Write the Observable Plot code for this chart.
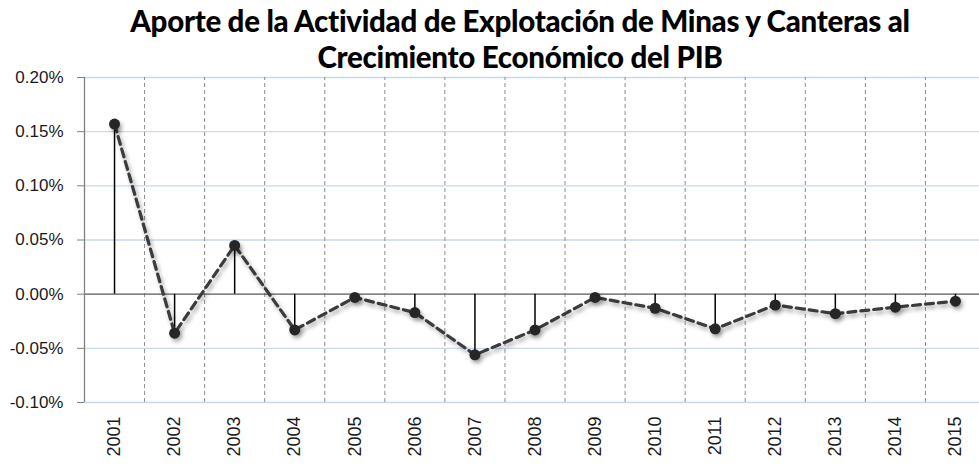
<!DOCTYPE html>
<html><head><meta charset="utf-8">
<script src="https://cdn.jsdelivr.net/npm/d3@7"></script>
<script src="https://cdn.jsdelivr.net/npm/@observablehq/plot@0.6"></script>
<style>
body{margin:0;background:#fff;width:979px;height:468px;overflow:hidden}
#title{font-family:Lato,"Open Sans",sans-serif;font-weight:900;font-size:29.5px;line-height:36px;text-align:center;color:#000;padding-left:61px;height:60px;box-sizing:border-box;padding-top:3px;letter-spacing:-0.3px;white-space:nowrap}
#chart svg{display:block;overflow:hidden}
</style></head><body>
<div id="title">Aporte de la Actividad de Explotación de Minas y Canteras al<br>Crecimiento Económico del PIB</div>
<div id="chart"></div>
<script>
const years = [2001,2002,2003,2004,2005,2006,2007,2008,2009,2010,2011,2012,2013,2014,2015];
const values = [0.157,-0.036,0.045,-0.033,-0.003,-0.017,-0.056,-0.033,-0.003,-0.013,-0.032,-0.010,-0.018,-0.012,-0.0065];
const yTicks = [-0.10,-0.05,0,0.05,0.10,0.15,0.20];

const data = years.map((y,i)=>({year:y, value:values[i]}));
const bounds = years.slice(0,-1).map(y=>y+0.5);

const plot = Plot.plot({
  width: 979,
  height: 408,
  marginTop: 17,
  marginBottom: 66,
  marginLeft: 84,
  marginRight: 0,
  style:{background:"#fff", overflow:"hidden"},
  x:{type:"linear", domain:[years[0]-0.5, years[years.length-1]+0.5], range:[84,985]},
  y:{domain:[-0.10,0.20]},
  marks:[
    Plot.ruleY(yTicks.filter(d=>d!==0), {stroke:"#c6d9f0", strokeWidth:1.3}),
    Plot.ruleX(bounds, {y1:-0.10, y2:0.20, stroke:"#8c8c8c", strokeDasharray:"4,3", strokeWidth:1}),
    Plot.ruleY([0], {stroke:"#595959", strokeWidth:1.3}),
    Plot.ruleX(data, {x:"year", y1:0, y2:"value", stroke:"#000", strokeWidth:1.5}),
    Plot.line(data, {x:"year", y:"value", stroke:"#3a3a3a", strokeWidth:3.2, strokeDasharray:"8,5"}),
    Plot.dot(data, {x:"year", y:"value", r:5.5, fill:"#262626", stroke:"none"}),
    Plot.axisY({ticks:yTicks, tickFormat:d=>d.toFixed(2)+"%", tickSize:7, tickPadding:14, stroke:"#808080", fill:"#1a1a1a", fontSize:17, fontFamily:"'Liberation Sans', Arial, sans-serif", label:null}),
    Plot.ruleX([years[0]-0.5], {y1:-0.10, y2:0.20, stroke:"#808080", strokeWidth:1.3}),
    Plot.axisX({ticks:years, tickFormat:d=>String(d), tickSize:0, tickPadding:14, tickRotate:-90, fill:"#1a1a1a", fontSize:18, fontFamily:"'Liberation Sans', Arial, sans-serif", label:null})
  ]
});
document.getElementById("chart").appendChild(plot);
const svg = d3.select(plot);
const defs = svg.insert("defs",":first-child");
const f = defs.append("filter").attr("id","sh").attr("x","-10%").attr("y","-10%").attr("width","130%").attr("height","140%");
f.append("feDropShadow").attr("dx",2).attr("dy",3).attr("stdDeviation",2).attr("flood-color","#000").attr("flood-opacity",0.35);
svg.selectAll('g[aria-label="line"], g[aria-label="dot"]').attr("filter","url(#sh)");
</script>
</body></html>
